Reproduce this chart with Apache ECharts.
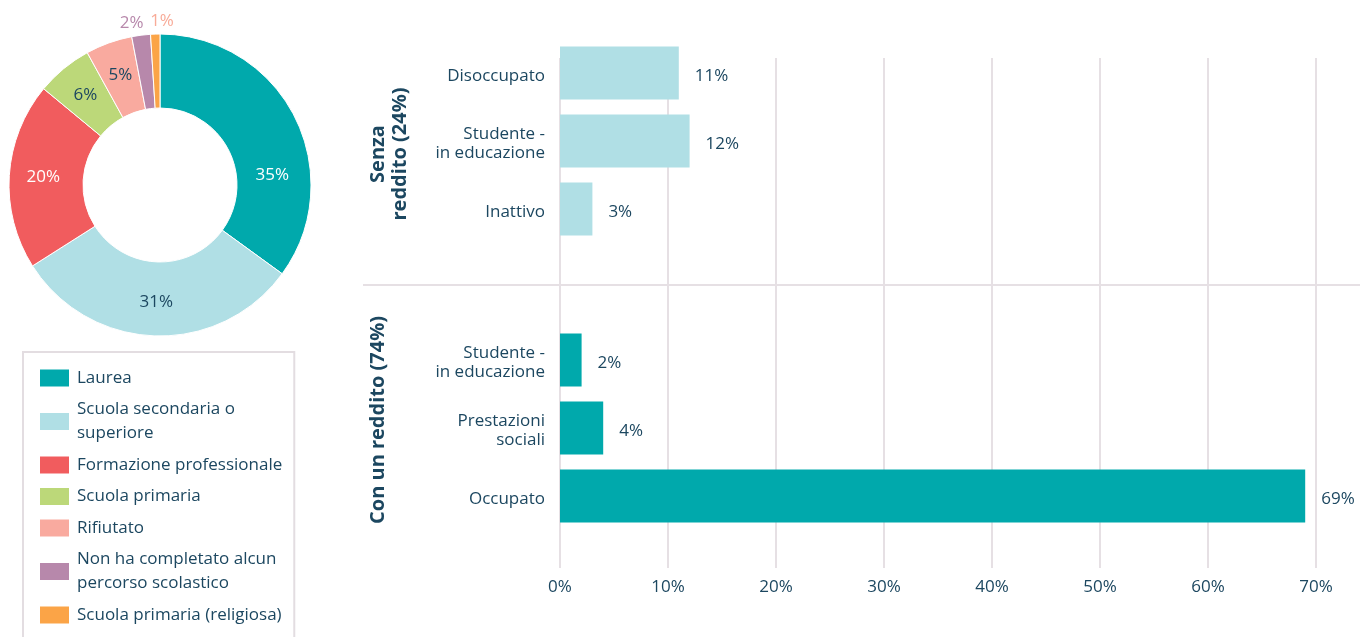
<!DOCTYPE html>
<html>
<head>
<meta charset="utf-8">
<title>Istruzione e reddito</title>
<script src="https://cdn.jsdelivr.net/npm/echarts@6/dist/echarts.min.js"></script>
<style>
  html, body { margin: 0; padding: 0; background: #ffffff; }
  #chart { width: 1360px; height: 637px; }
</style>
</head>
<body>
<div id="chart"></div>
<script>
// Titolo di studio (ciambella)
const eduNames = [
  'Laurea',
  'Scuola secondaria o\nsuperiore',
  'Formazione professionale',
  'Scuola primaria',
  'Rifiutato',
  'Non ha completato alcun\npercorso scolastico',
  'Scuola primaria (religiosa)'
];
const eduShares = [35, 31, 20, 6, 5, 2, 1];
const eduColors = ['#00a9ac', '#b0dfe5', '#f15c5e', '#bcd879', '#f9aa9f', '#b788ab', '#fba447'];
const eduLabelColors = ['#ffffff', '#1c4760', '#ffffff', '#1c4760', '#1c4760', '#b788ab', '#f8ab98'];

// Condizione economica (barre)
const noIncomeCats = ['Disoccupato', 'Studente -\nin educazione', 'Inattivo'];
const noIncomeVals = [11, 12, 3];
const incomeCats = ['Studente -\nin educazione', 'Prestazioni\nsociali', 'Occupato'];
const incomeVals = [2, 4, 69];
const groupTitles = ['Senza\nreddito (24%)', 'Con un reddito (74%)'];
const axisMax = 70;
const axisStep = 10;

const TEXT = '#1c4760';
const GRID = '#e6e0e4';
const FONT = "'Open Sans', 'Noto Sans', sans-serif";
const LIGHT = '#b0dfe5';
const TEAL = '#00a9ac';
const FS = 17;

const chart = echarts.init(document.getElementById('chart'), null, { renderer: 'canvas' });

const barLabel = {
  show: true,
  position: 'right',
  distance: 16,
  offset: [0, 3],
  formatter: '{c}%',
  color: TEXT,
  fontSize: FS,
  fontFamily: FONT
};

// category labels: each line wrapped in a rich token nudged slightly down
const catAxis = (gridIndex, cats) => ({
  type: 'category',
  gridIndex: gridIndex,
  data: cats,
  inverse: true,
  axisLine: { show: false },
  axisTick: { show: false },
  axisLabel: {
    margin: 15,
    align: 'right',
    formatter: (v) => v.split('\n').map((s) => '{l|' + s + '}').join('\n'),
    rich: {
      l: {
        color: TEXT,
        fontSize: FS,
        fontFamily: FONT,
        lineHeight: 19,
        padding: [6, 0, 0, 0]
      }
    }
  }
});

const hiddenValueAxis = (gridIndex) => ({
  type: 'value',
  gridIndex: gridIndex,
  min: 0,
  max: axisMax,
  interval: axisStep,
  show: false
});

const option = {
  backgroundColor: '#ffffff',
  animation: false,
  textStyle: { fontFamily: FONT },
  grid: [
    { left: 560, width: 756, top: 58, bottom: 69 },
    { left: 560, width: 756, top: 39, height: 204 },
    { left: 560, width: 756, top: 326, height: 204 }
  ],
  xAxis: [
    {
      type: 'value',
      gridIndex: 0,
      min: 0,
      max: axisMax,
      interval: axisStep,
      axisLine: { show: false },
      axisTick: { show: false },
      axisLabel: {
        formatter: '{value}%',
        color: TEXT,
        fontSize: FS,
        fontFamily: FONT,
        margin: 11
      },
      splitLine: { show: true, lineStyle: { color: GRID, width: 2 } }
    },
    hiddenValueAxis(1),
    hiddenValueAxis(2)
  ],
  yAxis: [
    { type: 'value', gridIndex: 0, show: false },
    catAxis(1, noIncomeCats),
    catAxis(2, incomeCats)
  ],
  legend: {
    orient: 'vertical',
    left: 23,
    top: 352,
    height: 330,
    padding: [14, 12, 24, 15],
    borderColor: '#e3dde1',
    borderWidth: 2,
    icon: 'rect',
    itemWidth: 31,
    itemHeight: 19,
    itemGap: 7.5,
    selectedMode: false,
    data: eduNames,
    textStyle: {
      color: TEXT,
      fontSize: FS,
      lineHeight: 24,
      fontFamily: FONT,
      padding: [0, 0, 0, 2]
    }
  },
  series: [
    {
      type: 'pie',
      center: [160, 185],
      radius: [77, 151],
      startAngle: 90,
      clockwise: true,
      avoidLabelOverlap: false,
      itemStyle: { borderColor: '#ffffff', borderWidth: 1 },
      label: {
        show: true,
        position: 'inside',
        formatter: '{c}%',
        fontSize: FS,
        fontFamily: FONT
      },
      labelLine: { show: false, length: 4, length2: 0 },
      labelLayout: function (params) {
        if (params.dataIndex === 0) return { dx: 8, dy: 43 };
        if (params.dataIndex === 5) return { align: 'right', verticalAlign: 'bottom', dx: 8 };
        if (params.dataIndex === 6) return { align: 'left', verticalAlign: 'bottom' };
        return {};
      },
      data: eduNames.map((name, i) => ({
        name: name,
        value: eduShares[i],
        itemStyle: { color: eduColors[i] },
        label: i >= 5
          ? { position: 'outside', color: eduLabelColors[i] }
          : { color: eduLabelColors[i] },
        labelLine: { show: false }
      }))
    },
    {
      type: 'bar',
      xAxisIndex: 1,
      yAxisIndex: 1,
      barWidth: 53,
      itemStyle: { color: LIGHT },
      label: barLabel,
      data: noIncomeVals
    },
    {
      type: 'bar',
      xAxisIndex: 2,
      yAxisIndex: 2,
      barWidth: 53,
      itemStyle: { color: TEAL },
      label: barLabel,
      data: incomeVals
    }
  ],
  graphic: [
    {
      type: 'line',
      z: 0,
      shape: { x1: 363, y1: 285, x2: 1360, y2: 285 },
      style: { stroke: GRID, lineWidth: 2 }
    },
    {
      type: 'text',
      x: 389,
      y: 154,
      rotation: Math.PI / 2,
      style: {
        text: groupTitles[0],
        font: "bold 20px 'Open Sans', 'Noto Sans', sans-serif",
        lineHeight: 22,
        fill: TEXT,
        align: 'center',
        verticalAlign: 'middle'
      }
    },
    {
      type: 'text',
      x: 378,
      y: 420,
      rotation: Math.PI / 2,
      style: {
        text: groupTitles[1],
        font: "bold 20px 'Open Sans', 'Noto Sans', sans-serif",
        fill: TEXT,
        align: 'center',
        verticalAlign: 'middle'
      }
    }
  ]
};

chart.setOption(option);
</script>
</body>
</html>
